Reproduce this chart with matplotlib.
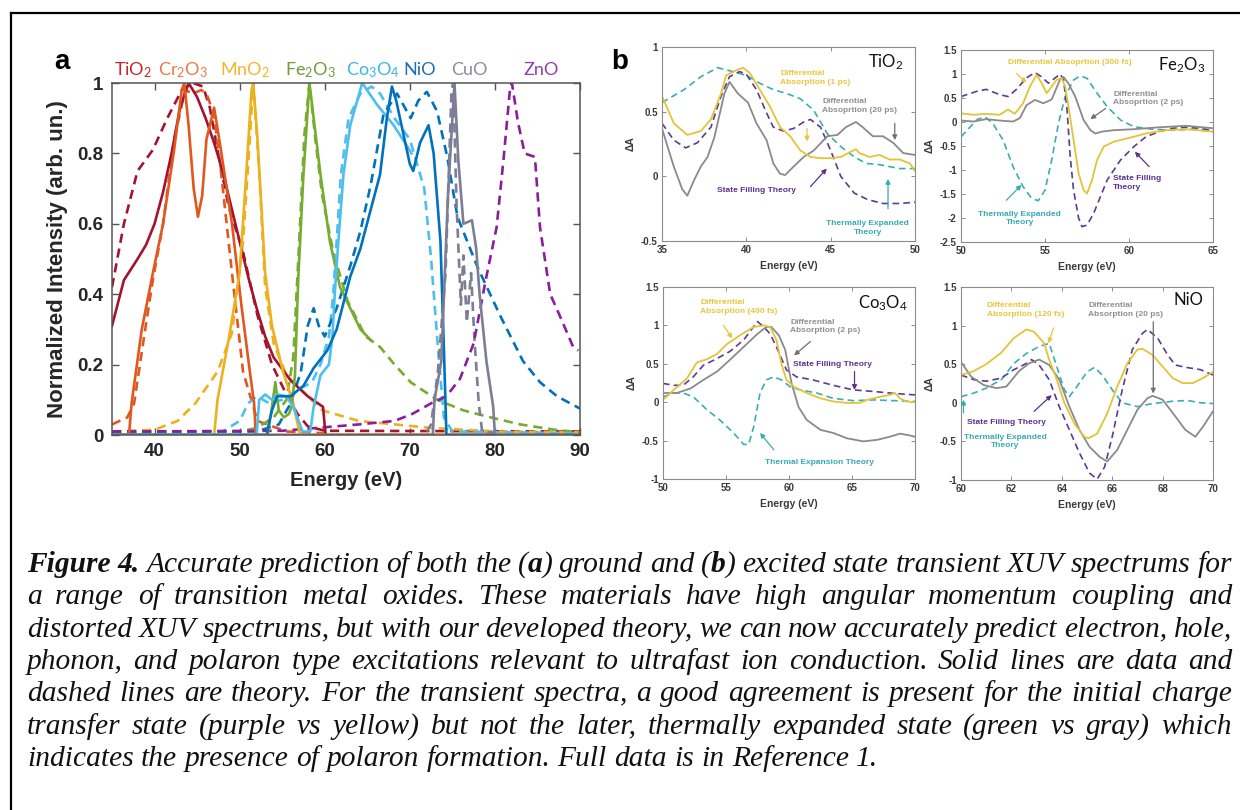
import numpy as np
import matplotlib
matplotlib.use('Agg')
import matplotlib.pyplot as plt
from matplotlib.lines import Line2D

plt.rcParams['font.family'] = ['Liberation Sans', 'DejaVu Sans']
plt.rcParams['mathtext.fontset'] = 'custom'
plt.rcParams['mathtext.rm'] = 'Lato'
plt.rcParams['mathtext.it'] = 'Lato:italic'
plt.rcParams['mathtext.bf'] = 'Lato:bold'
plt.rcParams['mathtext.default'] = 'regular'

W, H = 1240, 810

# ---------------- Panel a data (Energy eV, normalized intensity) ----------------
materials = ['TiO$_2$', 'Cr$_2$O$_3$', 'MnO$_2$', 'Fe$_2$O$_3$', 'Co$_3$O$_4$', 'NiO', 'CuO', 'ZnO']
mat_colors = ['#a2142f', '#e2571e', '#edb120', '#77ac30', '#4dbeee', '#0072bd', '#7d7d96', '#8b1e9b']
label_colors = ['#c1272d', '#ea7a45', '#f2b729', '#6f9c3d', '#3db5e6', '#1d6fb8', '#8c8c9c', '#9040a4']

tio2_exp_x = [35, 36.4, 38.0, 39.0, 40.0, 41.0, 42.0, 43.0, 44.0, 45.0, 46.0, 47.0, 48.0, 49.0, 50.0, 51.0, 52.0, 53.0, 54.0, 56.0, 58.0, 59.8, 60.1, 90]
tio2_exp_y = [0.31, 0.44, 0.50, 0.54, 0.60, 0.69, 0.80, 0.93, 1.0, 0.96, 0.90, 0.83, 0.75, 0.65, 0.55, 0.45, 0.36, 0.28, 0.22, 0.155, 0.11, 0.08, 0.0, 0.0]
tio2_th_x = [35, 36.4, 38.0, 39.8, 41.5, 43.2, 44.5, 45.7, 46.5, 47.4, 48.7, 50.4, 52.1, 53.8, 55.5, 56.8, 58.0, 60.0, 90]
tio2_th_y = [0.42, 0.60, 0.75, 0.81, 0.90, 0.98, 1.0, 0.99, 0.93, 0.81, 0.65, 0.52, 0.34, 0.20, 0.115, 0.06, 0.025, 0.012, 0.01]

cr2o3_exp_x = [35, 37.0, 37.3, 38.5, 39.8, 41.0, 42.3, 43.2, 43.5, 44.0, 44.6, 45.1, 45.6, 46.1, 47.0, 47.8, 49.1, 50.2, 51.2, 51.7, 51.9, 90]
cr2o3_exp_y = [0, 0, 0.09, 0.30, 0.46, 0.60, 0.81, 0.98, 1.0, 0.88, 0.70, 0.62, 0.68, 0.84, 0.93, 0.81, 0.60, 0.37, 0.18, 0.09, 0.0, 0.0]
cr2o3_th_x = [35, 36.8, 37.6, 38.9, 39.8, 41.0, 42.3, 43.6, 44.5, 45.5, 46.1, 47.0, 47.8, 49.1, 50.4, 52.1, 55.5, 60.0]
cr2o3_th_y = [0.03, 0.05, 0.09, 0.30, 0.44, 0.60, 0.84, 0.98, 0.97, 0.98, 0.97, 0.91, 0.75, 0.46, 0.18, 0.04, 0.01, 0.005]

mno2_exp_x = [35, 47.0, 47.4, 48.7, 50.0, 50.8, 51.4, 51.6, 52.1, 53.0, 53.8, 55.1, 56.3, 57.0, 57.2, 90]
mno2_exp_y = [0, 0, 0.10, 0.27, 0.46, 0.75, 0.98, 1.0, 0.84, 0.46, 0.31, 0.18, 0.09, 0.01, 0.0, 0.0]
mno2_th_x = [35, 40.0, 42.7, 44.8, 47.4, 49.1, 50.4, 51.2, 51.6, 52.3, 53.0, 54.0, 55.5, 59.7, 64.0, 72.5, 80.0, 90]
mno2_th_y = [0.01, 0.015, 0.04, 0.09, 0.18, 0.29, 0.55, 0.84, 1.0, 0.75, 0.42, 0.26, 0.17, 0.07, 0.04, 0.02, 0.01, 0.008]

fe2o3_exp_x = [35, 53.3, 53.8, 54.2, 54.6, 55.2, 55.8, 56.1, 56.5, 56.9, 57.5, 58.2, 58.8, 59.5, 60.6, 61.8, 63.0, 64.2, 65.4]
fe2o3_exp_y = [0, 0, 0.08, 0.15, 0.07, 0.05, 0.06, 0.08, 0.17, 0.45, 0.74, 1.0, 0.88, 0.74, 0.55, 0.42, 0.36, 0.30, 0.27]
fe2o3_th_x = [35, 50.0, 52.0, 54.0, 55.5, 56.3, 57.0, 57.6, 58.2, 58.9, 59.7, 61.0, 62.7, 64.8, 66.5, 68.2, 70.1, 73.2, 76.3, 79.5, 83.0, 87.0, 90]
fe2o3_th_y = [0.005, 0.01, 0.02, 0.05, 0.10, 0.22, 0.55, 0.85, 1.0, 0.84, 0.68, 0.52, 0.38, 0.28, 0.25, 0.20, 0.15, 0.10, 0.07, 0.05, 0.03, 0.015, 0.008]

co3o4_exp_x = [35, 52.0, 52.3, 53.0, 53.8, 54.5, 55.5, 56.3, 57.4, 58.3, 58.7, 59.5, 60.5, 60.9, 61.2, 61.6, 62.2, 63.0, 64.4, 66.1, 68.1, 69.7, 70.2]
co3o4_exp_y = [0, 0, 0.10, 0.115, 0.10, 0.115, 0.11, 0.08, 0.01, 0.01, 0.08, 0.17, 0.20, 0.28, 0.41, 0.55, 0.74, 0.88, 1.0, 0.94, 0.88, 0.82, 0.80]
co3o4_th_x = [35, 48.0, 50.0, 51.0, 52.0, 53.5, 55.0, 57.0, 58.5, 59.5, 60.5, 61.0, 61.4, 61.9, 62.8, 64.2, 65.5, 66.5, 68.2, 70.0, 71.7, 72.5, 73.3, 74.0, 75.0, 90]
co3o4_th_y = [0.005, 0.01, 0.04, 0.09, 0.11, 0.09, 0.10, 0.13, 0.15, 0.20, 0.28, 0.40, 0.55, 0.74, 0.90, 0.97, 0.99, 0.97, 0.90, 0.84, 0.70, 0.50, 0.25, 0.05, 0.01, 0.005]

nio_exp_x = [35, 53.2, 53.5, 53.8, 54.4, 56.0, 57.5, 58.7, 60.3, 61.4, 63.0, 64.2, 65.4, 66.5, 67.3, 67.9, 68.4, 69.2, 70.0, 70.4, 71.2, 72.2, 72.8, 73.6, 74.0, 74.3, 90]
nio_exp_y = [0, 0, 0.04, 0.07, 0.11, 0.11, 0.14, 0.19, 0.24, 0.30, 0.45, 0.53, 0.64, 0.74, 0.90, 0.99, 0.95, 0.86, 0.77, 0.75, 0.83, 0.88, 0.80, 0.55, 0.25, 0.0, 0.0]
nio_th_x = [35, 52.0, 54.6, 56.0, 57.2, 58.0, 58.7, 59.3, 60.0, 61.4, 63.0, 64.2, 65.4, 66.9, 68.5, 70.1, 71.0, 72.0, 73.2, 74.4, 75.6, 77.9, 80.6, 83.3, 85.3, 87.3, 90]
nio_th_y = [0.01, 0.01, 0.03, 0.09, 0.18, 0.31, 0.36, 0.31, 0.28, 0.36, 0.48, 0.58, 0.71, 0.91, 0.97, 0.90, 0.95, 0.975, 0.92, 0.79, 0.62, 0.48, 0.34, 0.21, 0.15, 0.11, 0.075]

cuo_exp_x = [35, 72.7, 72.9, 73.7, 74.5, 75.25, 75.7, 76.3, 77.3, 77.8, 78.2, 79.0, 79.8, 80.0, 90]
cuo_exp_y = [0, 0, 0.10, 0.21, 0.69, 1.0, 0.78, 0.60, 0.61, 0.53, 0.40, 0.21, 0.08, 0.0, 0.0]
cuo_th_x = [72.0, 72.5, 73.3, 74.2, 74.9, 75.1, 75.5, 76.0, 76.3, 76.7, 77.2, 77.6, 78.1, 78.5, 80.0]
cuo_th_y = [0.01, 0.03, 0.18, 0.46, 0.98, 1.0, 0.65, 0.37, 0.51, 0.32, 0.46, 0.27, 0.09, 0.01, 0.005]

zno_th_x = [35, 55.0, 64.0, 68.2, 70.3, 72.5, 74.3, 75.9, 77.5, 79.0, 80.2, 81.0, 81.8, 82.0, 82.7, 83.5, 84.7, 85.3, 86.5, 87.6, 89.2, 89.8]
zno_th_y = [0.01, 0.012, 0.03, 0.04, 0.06, 0.09, 0.11, 0.16, 0.26, 0.45, 0.59, 0.78, 0.99, 1.0, 0.89, 0.80, 0.79, 0.59, 0.40, 0.34, 0.25, 0.24]

exp_sets = [(tio2_exp_x, tio2_exp_y), (cr2o3_exp_x, cr2o3_exp_y), (mno2_exp_x, mno2_exp_y),
            (fe2o3_exp_x, fe2o3_exp_y), (co3o4_exp_x, co3o4_exp_y), (nio_exp_x, nio_exp_y),
            (cuo_exp_x, cuo_exp_y), None]
th_sets = [(tio2_th_x, tio2_th_y), (cr2o3_th_x, cr2o3_th_y), (mno2_th_x, mno2_th_y),
           (fe2o3_th_x, fe2o3_th_y), (co3o4_th_x, co3o4_th_y), (nio_th_x, nio_th_y),
           (cuo_th_x, cuo_th_y), (zno_th_x, zno_th_y)]
label_px = [133, 183, 245, 310, 373, 420, 469, 541]

# ---------------- Panel b data ----------------
# TiO2
tio2_1ps_x = [35, 35.7, 36.5, 37.3, 37.9, 38.5, 38.8, 39.4, 39.8, 40.2, 40.8, 41.4, 42.0, 42.6, 43.2, 43.8, 44.4, 45.0, 45.6, 46.2, 46.5, 46.7, 47.3, 47.9, 48.5, 49.1, 49.7, 50.0]
tio2_1ps_y = [0.62, 0.41, 0.32, 0.35, 0.44, 0.64, 0.78, 0.82, 0.84, 0.80, 0.67, 0.54, 0.38, 0.31, 0.20, 0.15, 0.14, 0.14, 0.15, 0.19, 0.21, 0.18, 0.15, 0.165, 0.13, 0.13, 0.10, 0.04]
tio2_20ps_x = [35, 35.7, 36.2, 36.5, 36.9, 37.3, 37.7, 38.1, 38.7, 39.0, 39.5, 40.1, 40.6, 41.2, 41.6, 42.0, 42.3, 42.8, 43.4, 44.0, 44.8, 45.4, 45.9, 46.5, 46.9, 47.5, 48.1, 48.7, 49.3, 50.0]
tio2_20ps_y = [0.37, 0.075, -0.10, -0.15, -0.03, 0.075, 0.15, 0.30, 0.64, 0.73, 0.64, 0.57, 0.41, 0.28, 0.10, 0.02, 0.01, 0.075, 0.15, 0.20, 0.31, 0.32, 0.38, 0.42, 0.38, 0.31, 0.31, 0.26, 0.18, 0.165]
tio2_sf_x = [35, 35.7, 36.4, 37.1, 37.9, 38.5, 39.0, 39.6, 40.0, 40.6, 41.2, 41.6, 42.2, 42.8, 43.4, 43.8, 44.4, 45.0, 45.6, 46.4, 47.2, 48.1, 49.1, 50.0]
tio2_sf_y = [0.41, 0.28, 0.22, 0.26, 0.38, 0.62, 0.77, 0.81, 0.79, 0.67, 0.49, 0.38, 0.35, 0.37, 0.42, 0.44, 0.38, 0.20, 0.0, -0.13, -0.18, -0.21, -0.21, -0.20]
tio2_te_x = [35, 36.3, 37.3, 38.3, 39.2, 40.0, 40.8, 41.6, 42.4, 43.2, 44.0, 44.8, 45.6, 46.4, 47.1, 47.9, 49.1, 50.0]
tio2_te_y = [0.57, 0.67, 0.77, 0.84, 0.81, 0.78, 0.72, 0.67, 0.64, 0.60, 0.51, 0.33, 0.23, 0.15, 0.10, 0.09, 0.06, 0.06]

# Fe2O3
fe2o3_300fs_x = [50, 50.75, 51.5, 52.3, 52.8, 53.2, 53.7, 54.1, 54.5, 54.8, 55.1, 55.4, 55.7, 56.0, 56.2, 56.4, 56.7, 57.0, 57.3, 57.5, 57.8, 58.1, 58.5, 59.1, 59.9, 61.0, 62.2, 63.4, 65.0]
fe2o3_300fs_y = [0.18, 0.15, 0.17, 0.15, 0.26, 0.17, 0.39, 0.74, 0.98, 0.81, 0.60, 0.74, 0.88, 0.91, 0.74, 0.32, -0.375, -1.07, -1.42, -1.49, -1.21, -0.79, -0.51, -0.41, -0.34, -0.24, -0.17, -0.15, -0.20]
fe2o3_2ps_x = [50, 50.75, 51.5, 52.3, 53.1, 53.5, 53.9, 54.4, 54.9, 55.4, 55.9, 56.1, 56.4, 56.8, 57.3, 57.7, 58.0, 58.4, 59.1, 60.3, 61.8, 63.4, 65.0]
fe2o3_2ps_y = [0.03, 0.01, 0.06, 0.03, 0.01, 0.08, 0.35, 0.46, 0.39, 0.47, 0.89, 0.94, 0.80, 0.53, 0.04, -0.17, -0.24, -0.20, -0.17, -0.15, -0.11, -0.08, -0.13]
fe2o3_sf_x = [50, 50.95, 51.5, 52.3, 52.8, 53.3, 53.9, 54.4, 54.8, 55.2, 55.5, 55.9, 56.1, 56.3, 56.5, 56.7, 57.0, 57.2, 57.5, 57.9, 58.7, 59.5, 60.3, 61.0, 61.8, 62.6, 63.4, 64.2, 65.0]
fe2o3_sf_y = [0.53, 0.64, 0.68, 0.57, 0.53, 0.68, 0.92, 1.03, 0.94, 0.81, 0.89, 1.0, 0.88, 0.32, -0.72, -1.42, -2.0, -2.18, -2.15, -1.90, -1.21, -0.79, -0.51, -0.31, -0.20, -0.13, -0.11, -0.13, -0.18]
fe2o3_te_x = [50, 50.55, 51.0, 51.45, 51.9, 52.5, 53.1, 53.7, 54.2, 54.6, 55.0, 55.4, 55.8, 56.2, 56.7, 57.1, 57.5, 58.1, 58.7, 59.5, 60.3, 61.4, 62.6, 63.8, 65.0]
fe2o3_te_y = [-0.31, -0.10, 0.06, 0.10, -0.03, -0.375, -0.93, -1.35, -1.59, -1.64, -1.42, -0.79, -0.03, 0.53, 0.875, 0.96, 0.91, 0.60, 0.32, 0.04, -0.10, -0.15, -0.17, -0.15, -0.20]

# Co3O4
co3o4_400fs_x = [50, 50.85, 51.9, 52.7, 53.5, 54.3, 55.1, 56.1, 57.2, 58.0, 58.5, 59.0, 59.4, 59.8, 60.4, 61.4, 62.5, 63.5, 64.6, 65.6, 66.2, 67.2, 68.0, 68.4, 68.8, 69.3, 70.0]
co3o4_400fs_y = [0.03, 0.16, 0.31, 0.52, 0.56, 0.63, 0.76, 0.87, 0.98, 1.0, 0.98, 0.81, 0.50, 0.29, 0.20, 0.12, 0.05, 0.01, -0.01, -0.01, 0.03, 0.07, 0.095, 0.12, 0.05, 0.01, 0.0]
co3o4_2ps_x = [50, 51.1, 52.2, 53.2, 54.3, 55.3, 56.4, 57.5, 58.2, 58.6, 59.2, 59.7, 60.2, 60.75, 61.4, 62.5, 63.5, 64.6, 65.9, 67.0, 68.0, 68.8, 69.5, 70.0]
co3o4_2ps_y = [0.12, 0.12, 0.18, 0.29, 0.40, 0.55, 0.72, 0.89, 0.98, 0.98, 0.87, 0.68, 0.25, -0.06, -0.23, -0.36, -0.40, -0.47, -0.51, -0.49, -0.45, -0.41, -0.43, -0.45]
co3o4_sf_x = [50, 50.85, 51.6, 52.4, 53.2, 54.3, 55.3, 56.4, 57.5, 58.0, 58.5, 59.0, 59.8, 60.6, 61.9, 63.5, 65.1, 66.7, 68.3, 70.0]
co3o4_sf_y = [0.245, 0.22, 0.22, 0.33, 0.48, 0.57, 0.66, 0.81, 1.05, 0.98, 0.89, 0.72, 0.42, 0.33, 0.29, 0.22, 0.16, 0.14, 0.115, 0.095]
co3o4_te_x = [50, 50.85, 51.6, 52.4, 53.5, 54.5, 55.6, 56.4, 56.8, 57.2, 57.7, 58.2, 58.8, 59.4, 60.1, 60.9, 62.2, 63.5, 65.1, 66.7, 68.3, 70.0]
co3o4_te_y = [0.07, 0.12, 0.12, 0.07, -0.10, -0.23, -0.40, -0.55, -0.55, -0.32, 0.12, 0.29, 0.33, 0.29, 0.20, 0.16, 0.12, 0.05, 0.02, 0.03, 0.02, 0.01]

# NiO
nio_120fs_x = [60, 60.5, 61.0, 61.6, 62.1, 62.6, 62.9, 63.3, 63.5, 63.8, 64.1, 64.5, 64.9, 65.05, 65.4, 65.8, 66.2, 66.6, 67.0, 67.2, 67.6, 68.0, 68.4, 68.8, 69.2, 69.6, 70.0]
nio_120fs_y = [0.36, 0.41, 0.50, 0.65, 0.84, 0.95, 0.92, 0.77, 0.56, 0.30, 0.0, -0.27, -0.44, -0.46, -0.40, -0.14, 0.21, 0.51, 0.69, 0.70, 0.62, 0.47, 0.32, 0.255, 0.255, 0.32, 0.40]
nio_20ps_x = [60, 60.4, 60.9, 61.4, 61.8, 62.3, 62.7, 63.1, 63.5, 63.9, 64.3, 64.7, 65.1, 65.5, 65.8, 66.2, 66.6, 67.0, 67.4, 67.6, 68.0, 68.4, 68.9, 69.3, 69.6, 70.0]
nio_20ps_y = [0.53, 0.34, 0.23, 0.19, 0.21, 0.41, 0.51, 0.56, 0.49, 0.30, -0.05, -0.35, -0.57, -0.70, -0.76, -0.61, -0.35, -0.09, 0.06, 0.09, 0.04, -0.13, -0.35, -0.44, -0.31, -0.11]
nio_sf_x = [60, 60.5, 61.0, 61.6, 62.1, 62.6, 62.8, 63.1, 63.5, 63.9, 64.3, 64.7, 65.1, 65.4, 65.7, 66.0, 66.4, 66.8, 67.2, 67.4, 67.8, 68.2, 68.5, 68.9, 69.5, 70.0]
nio_sf_y = [0.36, 0.30, 0.28, 0.32, 0.43, 0.51, 0.56, 0.49, 0.30, -0.05, -0.35, -0.65, -0.91, -0.99, -0.83, -0.44, 0.17, 0.69, 0.90, 0.95, 0.84, 0.62, 0.49, 0.46, 0.43, 0.36]
nio_te_x = [60, 60.5, 61.0, 61.6, 62.1, 62.6, 63.1, 63.5, 63.8, 64.1, 64.3, 64.6, 65.0, 65.3, 65.6, 66.0, 66.4, 67.0, 67.6, 68.4, 69.0, 69.5, 70.0]
nio_te_y = [0.08, 0.125, 0.19, 0.30, 0.51, 0.64, 0.73, 0.77, 0.47, 0.17, 0.08, 0.21, 0.40, 0.46, 0.36, 0.17, 0.0, -0.05, -0.01, 0.02, 0.03, 0.0, -0.01]

C_YEL, C_GRY, C_PUR, C_TEA = '#e3c436', '#8a8a8a', '#5c3b94', '#3aaeb2'
T_YEL, T_GRY, T_PUR, T_TEA = '#e8c73a', '#8f8f8f', '#5e2e92', '#36abb1'


def rect(l, t, r, b):
    return [l / W, 1 - b / H, (r - l) / W, (b - t) / H]


fig = plt.figure(figsize=(W / 100, H / 100), dpi=100)

# outer border (left and top only visible)
fig.add_artist(Line2D([11 / W, 11 / W], [0, 1 - 13 / H], transform=fig.transFigure, color='black', lw=1.6))
fig.add_artist(Line2D([11 / W, 1], [1 - 13 / H, 1 - 13 / H], transform=fig.transFigure, color='black', lw=1.6))

# ---------------- Panel a ----------------
axa = fig.add_axes(rect(112, 83, 580, 435))
for i in range(len(materials)):
    if th_sets[i] is not None:
        axa.plot(th_sets[i][0], th_sets[i][1], color=mat_colors[i], lw=1.9, ls=(0, (3.5, 2.2)))
for i in range(len(materials)):
    if exp_sets[i] is not None:
        axa.plot(exp_sets[i][0], exp_sets[i][1], color=mat_colors[i], lw=1.9)
axa.set_xlim(35, 90)
axa.set_ylim(0, 1)
axa.set_xticks([40, 50, 60, 70, 80, 90])
axa.set_yticks([0, 0.2, 0.4, 0.6, 0.8, 1])
axa.set_yticklabels(['0', '0.2', '0.4', '0.6', '0.8', '1'])
axa.tick_params(direction='in', top=True, right=True, length=5, width=1, colors='#555555',
                labelcolor='#262626', labelsize=13.5, pad=6)
for lab in axa.get_xticklabels() + axa.get_yticklabels():
    lab.set_fontweight('bold')
for s in axa.spines.values():
    s.set_color('#555555')
    s.set_linewidth(1.1)
axa.set_xlabel('Energy (eV)', fontsize=14.5, fontweight='bold', color='#262626', labelpad=8)
axa.set_ylabel('Normalized Intensity (arb. un.)', fontsize=16, fontweight='bold', color='#262626', labelpad=7)
for i, name in enumerate(materials):
    fig.text(label_px[i] / W, 1 - 70 / H, name, family='Lato', fontsize=13, color=label_colors[i],
             ha='center', va='center')
fig.text(62 / W, 1 - 62 / H, 'a', fontsize=20, fontweight='bold', ha='center', va='center')
fig.text(620 / W, 1 - 62 / H, 'b', fontsize=20, fontweight='bold', ha='center', va='center')


# ---------------- Panel b ----------------
def style_b(ax, xlim, ylim, xt, yt):
    ax.set_xlim(*xlim)
    ax.set_ylim(*ylim)
    ax.set_xticks(xt)
    ax.set_yticks(yt)
    ax.set_xticklabels(['{:g}'.format(v) for v in xt])
    ax.set_yticklabels(['{:g}'.format(v) for v in yt])
    ax.tick_params(direction='in', top=True, right=True, length=3, width=0.7, colors='#8c8c8c',
                   labelcolor='#3a3a3a', labelsize=7, pad=3)
    for lab in ax.get_xticklabels() + ax.get_yticklabels():
        lab.set_fontweight('bold')
    for s in ax.spines.values():
        s.set_color('#8c8c8c')
        s.set_linewidth(0.8)
    ax.set_xlabel('Energy (eV)', fontsize=7.5, fontweight='bold', color='#3a3a3a', labelpad=4)
    ax.set_ylabel('ΔA', fontsize=7.5, fontweight='bold', color='#3a3a3a', labelpad=4)


def curves(ax, yel, gry, pur, tea):
    ax.plot(tea[0], tea[1], color=C_TEA, lw=1.2, ls=(0, (4, 2.5)))
    ax.plot(pur[0], pur[1], color=C_PUR, lw=1.2, ls=(0, (4, 2.5)))
    ax.plot(gry[0], gry[1], color=C_GRY, lw=1.3)
    ax.plot(yel[0], yel[1], color=C_YEL, lw=1.3)


def arrow(ax, tail, head, c):
    ax.annotate('', xy=head, xytext=tail,
                arrowprops=dict(arrowstyle='-|>', color=c, lw=0.9, mutation_scale=7, shrinkA=0, shrinkB=0))


def note(ax, x, y, s, c, ha='left'):
    ax.text(x, y, s, color=c, fontsize=6, fontweight='bold', ha=ha, va='center', linespacing=1.35)


def title(ax, x, y, s):
    ax.text(x, y, s, transform=ax.transAxes, family='Lato', fontsize=12, color='#111111', ha='right', va='center')


# TiO2
ax1 = fig.add_axes(rect(662, 47, 915, 241))
curves(ax1, (tio2_1ps_x, tio2_1ps_y), (tio2_20ps_x, tio2_20ps_y), (tio2_sf_x, tio2_sf_y), (tio2_te_x, tio2_te_y))
style_b(ax1, (35, 50), (-0.5, 1), [35, 40, 45, 50], [-0.5, 0, 0.5, 1])
title(ax1, 0.955, 0.92, 'TiO$_2$')
note(ax1, 42.0, 0.76, 'Differential\nAbsorption (1 ps)', T_YEL)
note(ax1, 44.5, 0.545, 'Differential\nAbsoprtion (20 ps)', T_GRY)
note(ax1, 40.6, -0.106, 'State Filling Theory', T_PUR, ha='center')
note(ax1, 47.2, -0.40, 'Thermally Expanded\nTheory', T_TEA, ha='center')
arrow(ax1, (43.6, 0.37), (43.6, 0.27), T_YEL)
arrow(ax1, (48.8, 0.41), (48.8, 0.28), '#707070')
arrow(ax1, (43.8, -0.08), (44.77, 0.06), T_PUR)
arrow(ax1, (48.4, -0.25), (48.4, -0.02), T_TEA)

# Fe2O3
ax2 = fig.add_axes(rect(961, 50, 1213, 242))
curves(ax2, (fe2o3_300fs_x, fe2o3_300fs_y), (fe2o3_2ps_x, fe2o3_2ps_y), (fe2o3_sf_x, fe2o3_sf_y), (fe2o3_te_x, fe2o3_te_y))
style_b(ax2, (50, 65), (-2.5, 1.5), [50, 55, 60, 65], [-2.5, -2, -1.5, -1, -0.5, 0, 0.5, 1, 1.5])
title(ax2, 0.968, 0.92, 'Fe$_2$O$_3$')
note(ax2, 56.5, 1.23, 'Differential Absoprtion (300 fs)', T_YEL, ha='center')
note(ax2, 59.05, 0.49, 'Differential\nAbsoprtion (2 ps)', T_GRY)
note(ax2, 59.05, -1.27, 'State Filling\nTheory', T_PUR)
note(ax2, 53.5, -2.01, 'Thermally Expanded\nTheory', T_TEA, ha='center')
arrow(ax2, (53.3, 1.01), (53.9, 0.82), T_YEL)
arrow(ax2, (58.6, 0.28), (57.7, 0.06), '#707070')
arrow(ax2, (61.2, -0.93), (60.35, -0.62), T_PUR)
arrow(ax2, (52.7, -1.63), (53.6, -1.31), T_TEA)

# Co3O4
ax3 = fig.add_axes(rect(663, 287, 915, 479))
curves(ax3, (co3o4_400fs_x, co3o4_400fs_y), (co3o4_2ps_x, co3o4_2ps_y), (co3o4_sf_x, co3o4_sf_y), (co3o4_te_x, co3o4_te_y))
style_b(ax3, (50, 70), (-1, 1.5), [50, 55, 60, 65, 70], [-1, -0.5, 0, 0.5, 1, 1.5])
title(ax3, 0.972, 0.917, 'Co$_3$O$_4$')
note(ax3, 52.94, 1.24, 'Differential\nAbsorption (400 fs)', T_YEL)
note(ax3, 60.08, 0.986, 'Differential\nAbsorption (2 ps)', T_GRY)
note(ax3, 60.3, 0.497, 'State Filling Theory', T_PUR)
note(ax3, 58.1, -0.78, 'Thermal Expansion Theory', T_TEA)
arrow(ax3, (54.8, 1.0), (55.5, 0.83), T_YEL)
arrow(ax3, (61.7, 0.79), (60.4, 0.61), '#707070')
arrow(ax3, (65.2, 0.40), (65.2, 0.16), T_PUR)
arrow(ax3, (58.8, -0.62), (57.7, -0.40), T_TEA)

# NiO
ax4 = fig.add_axes(rect(961, 287, 1213, 480))
curves(ax4, (nio_120fs_x, nio_120fs_y), (nio_20ps_x, nio_20ps_y), (nio_sf_x, nio_sf_y), (nio_te_x, nio_te_y))
style_b(ax4, (60, 70), (-1, 1.5), [60, 62, 64, 66, 68, 70], [-1, -0.5, 0, 0.5, 1, 1.5])
title(ax4, 0.96, 0.933, 'NiO')
note(ax4, 61.03, 1.2, 'Differential\nAbsorption (120 fs)', T_YEL)
note(ax4, 65.04, 1.2, 'Differential\nAbsorption (20 ps)', T_GRY)
note(ax4, 60.24, -0.25, 'State Filling Theory', T_PUR)
note(ax4, 61.75, -0.5, 'Thermally Expanded\nTheory', T_TEA, ha='center')
arrow(ax4, (63.67, 0.97), (63.47, 0.77), T_YEL)
arrow(ax4, (67.63, 1.05), (67.63, 0.12), '#707070')
arrow(ax4, (62.9, -0.11), (63.6, 0.10), T_PUR)
arrow(ax4, (60.1, -0.13), (60.1, 0.04), T_TEA)

# ---------------- Caption (justified) ----------------
caption_lines = [
    "*Figure 4.* Accurate prediction of both the (*a*) ground and (*b*) excited state transient XUV spectrums for",
    "a range of transition metal oxides. These materials have high angular momentum coupling and",
    "distorted XUV spectrums, but with our developed theory, we can now accurately predict electron, hole,",
    "phonon, and polaron type excitations relevant to ultrafast ion conduction.  Solid lines are data and",
    "dashed lines are theory. For the transient spectra, a good agreement is present for the initial charge",
    "transfer state (purple vs yellow) but not the later, thermally expanded state (green vs gray) which",
    "indicates the presence of polaron formation. Full data is in Reference 1.",
]
CAP_LEFT, CAP_RIGHT = 27, 1232
CAP_BASE0, CAP_STEP = 572, 32.3
LAST_LINE_END = 878

fig.canvas.draw()
renderer = fig.canvas.get_renderer()


def parse_words(line):
    chars = []
    bold = False
    for ch in line:
        if ch == '*':
            bold = not bold
            continue
        chars.append((ch, bold))
    words = []
    cur = []
    for ch, b in chars:
        if ch == ' ':
            if cur:
                words.append(cur)
                cur = []
        else:
            if cur and cur[-1][1] == b:
                cur[-1] = (cur[-1][0] + ch, b)
            else:
                cur.append((ch, b))
    if cur:
        words.append(cur)
    return words


def measure(s, b, size):
    t = fig.text(0, 0, s, fontsize=size, family='Liberation Serif', style='italic',
                 fontweight='bold' if b else 'normal')
    w = t.get_window_extent(renderer).width
    t.remove()
    return w


ref = 20.0
parsed = [parse_words(l) for l in caption_lines]
last_w = sum(sum(measure(s, b, ref) for s, b in w) for w in parsed[-1])
sp_ref = measure('a a', False, ref) - measure('aa', False, ref)
last_w += sp_ref * (len(parsed[-1]) - 1)
size = ref * (LAST_LINE_END - CAP_LEFT) / last_w
sp = sp_ref * size / ref

for li, words in enumerate(parsed):
    widths = [[measure(s, b, size) for s, b in w] for w in words]
    totals = [sum(ws) for ws in widths]
    if li < len(parsed) - 1:
        gap = (CAP_RIGHT - CAP_LEFT - sum(totals)) / (len(words) - 1)
    else:
        gap = sp
    x = CAP_LEFT
    y = CAP_BASE0 + li * CAP_STEP
    for w, ws in zip(words, widths):
        xx = x
        for (s, b), wd in zip(w, ws):
            fig.text(xx / W, 1 - y / H, s, fontsize=size, family='Liberation Serif', style='italic',
                     fontweight='bold' if b else 'normal', ha='left', va='baseline', color='#111111')
            xx += wd
        x = xx + gap

fig.savefig('out.png', dpi=100)
